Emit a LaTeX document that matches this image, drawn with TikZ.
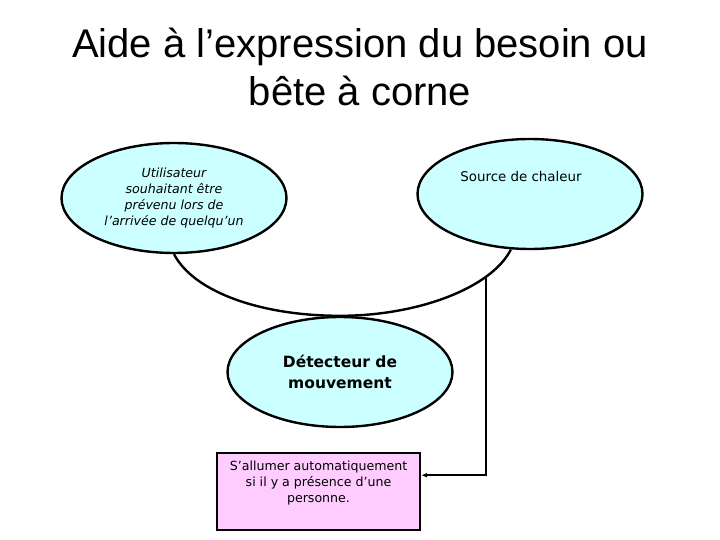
\documentclass[tikz,border=0pt]{standalone}
\usepackage{fontspec}
\setmainfont{DejaVu Sans}
\newfontfamily\titlefont{Liberation Sans}
\usetikzlibrary{arrows.meta,shapes.geometric,positioning}
\definecolor{cyanpale}{RGB}{204,255,255}
\definecolor{rosepale}{RGB}{255,204,255}

\begin{document}
\begin{tikzpicture}[x=1pt,y=-1pt,
  trait/.style={line width=2.4pt},
  bulle/.style={ellipse,draw,trait,fill=cyanpale,minimum width=225pt,minimum height=110pt,inner sep=0pt,align=center},
  fonction/.style={rectangle,draw,trait,fill=rosepale,minimum width=203pt,minimum height=77pt,inner sep=0pt,align=center}]
\useasboundingbox (0,0) rectangle (720,540);
\node[font=\titlefont\fontsize{40}{48}\selectfont,align=center,inner sep=0pt,anchor=base] (titre) at (360,106) {Aide à l’expression du besoin ou\\bête à corne};
\node[bulle,font=\itshape\fontsize{12.6}{16}\selectfont] (util) at (174,198) {Utilisateur\\souhaitant être\\prévenu lors de\\l’arrivée de quelqu’un};
\node[bulle,font=\fontsize{13.4}{15}\selectfont,text height=10pt,text depth=34pt] (source) at (530,194) {Source de chaleur\hspace*{18pt}};
\node[bulle,font=\bfseries\fontsize{15.5}{21}\selectfont] (detect) at (340,372) {Détecteur de\\mouvement};
\node[fonction,font=\fontsize{12.6}{16}\selectfont,text depth=20pt] (fct) at (318.5,491.5) {S’allumer automatiquement\\si il y a présence d’une\\personne.};
\coordinate (piquage) at (486,278);
% les cornes
\draw[trait] (util.south) .. controls +(20,38) and +(-79,0) .. (detect.north)
  .. controls +(79,0) and +(-19,38) .. (source.-109);
\draw[trait,-{Latex[length=6pt,width=5pt]}] (piquage) |- (fct.9);
\end{tikzpicture}
\end{document}
